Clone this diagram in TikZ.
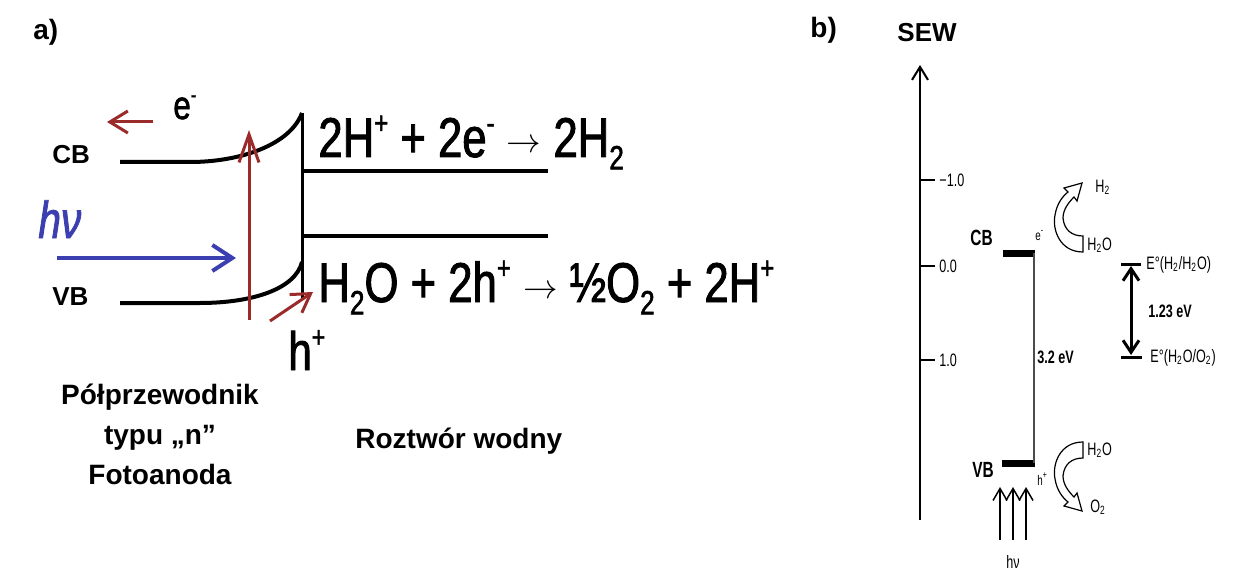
\documentclass[tikz,border=0pt]{standalone}
\usepackage{fontspec}
\setmainfont{Liberation Sans}
\newfontfamily\narrowsf[FakeStretch=0.7]{Liberation Sans}
\newfontfamily\eqsf[FakeStretch=0.78,FakeBold=1.6]{Liberation Sans}
\usetikzlibrary{arrows.meta}
\usepackage{xcolor}
\definecolor{Maroon}{HTML}{9B2B2B}
\definecolor{Royal}{HTML}{3B3FB0}
\newcommand{\supsm}[1]{\raisebox{0.42em}{\scalebox{0.55}{#1}}}
\newcommand{\subsm}[1]{\raisebox{-0.22em}{\scalebox{0.6}{#1}}}

\tikzset{
  lbl/.style={inner sep=0pt,anchor=base west},
  band/.style={line width=2pt},
  redarr/.style={draw=Maroon,line width=1.5pt,-{Straight Barb[length=9pt,width=11pt]}},
  bluearr/.style={draw=Royal,line width=2pt,-{Straight Barb[length=10pt,width=13pt]}},
  thinarr/.style={line width=0.75pt,-{Straight Barb[length=6pt,width=7pt]}},
  bendarrow/.pic={
    \draw[line width=0.6pt,fill=white]
      (0,-8) -- (0,8) .. controls (-23,8) and (-31,-14) .. (-28,-29)
      .. controls (-26,-41) and (-20,-48) .. (-15,-52) -- (-19,-56) -- (-1,-61)
      -- (-6,-43) -- (-9,-47) .. controls (-15,-41) and (-20,-34) .. (-20,-26)
      .. controls (-19,-14) and (-11,-8) .. (0,-8) -- cycle;
  }
}

\begin{document}
\begin{tikzpicture}[x=0.5pt,y=-0.5pt]
  \useasboundingbox (0,0) rectangle (1234,572);

  % a) band bending at the photoanode
  \node[lbl,font=\bfseries\fontsize{14}{16}\selectfont] (tagA) at (33,40) {a)};
  \node[lbl,font=\bfseries\fontsize{13}{15}\selectfont] (cbA) at (52,163) {CB};
  \node[lbl,font=\bfseries\fontsize{13}{15}\selectfont] (vbA) at (52,305) {VB};

  \coordinate (cbL) at (120,162);
  \coordinate (cbR) at (302,113);
  \coordinate (vbL) at (120,303);
  \coordinate (vbR) at (302,262);
  \coordinate (wallB) at (302,300);
  \draw[band] (cbL) -- (190,162) .. controls (240,162) and (290,145) .. (cbR);
  \draw[band] (vbL) -- (200,303) .. controls (250,303) and (295,290) .. (vbR);
  \draw[line width=1.5pt] (cbR) -- (wallB);
  \draw[band] (303,171) coordinate (redL) -- (548,171) coordinate (redR);
  \draw[band] (303,236) coordinate (oxL) -- (548,236) coordinate (oxR);

  \coordinate (excB) at (249,320);
  \coordinate (excT) at (249,130);
  \draw[redarr,-{Straight Barb[length=14pt,width=10pt]}] (excB) -- (excT);
  \coordinate (eoutR) at (153,122);
  \coordinate (eoutL) at (107,122);
  \draw[redarr] (eoutR) -- (eoutL);
  \coordinate (hinB) at (270,321);
  \coordinate (hinT) at (313,292);
  \draw[redarr] (hinB) -- (hinT);
  \coordinate (lightL) at (57,258);
  \coordinate (lightR) at (236,258);
  \draw[bluearr] (lightL) -- (lightR);

  \node[lbl,font=\eqsf\fontsize{20}{22}\selectfont] (eA) at (173,119) {e\supsm{-}};
  \node[lbl,font=\eqsf\itshape\fontsize{26}{30}\selectfont,text=Royal] (hvA) at (38,238) {hν};
  \node[lbl,font=\eqsf\fontsize{27}{30}\selectfont] (hA) at (288,370) {h\supsm{+}};

  \node[lbl,font=\eqsf\fontsize{28}{30}\selectfont] (eqRed) at (318,157)
    {2H\supsm{+} + 2e\supsm{-} \raisebox{2pt}{\fontsize{18}{18}\selectfont$\rightarrow$} 2H\subsm{2}};
  \node[lbl,font=\eqsf\fontsize{28}{30}\selectfont] (eqOx) at (318,302)
    {H\subsm{2}O + 2h\supsm{+} \raisebox{2pt}{\fontsize{18}{18}\selectfont$\rightarrow$} ½O\subsm{2} + 2H\supsm{+}};

  \node[font=\bfseries\fontsize{14}{20}\selectfont,align=center,anchor=north] (semi) at (160,377)
    {Półprzewodnik\\typu „n”\\Fotoanoda};
  \node[lbl,font=\bfseries\fontsize{14}{16}\selectfont] (sol) at (355,448) {Roztwór wodny};

  % b) energy scale vs. SEW
  \node[lbl,font=\bfseries\fontsize{14}{16}\selectfont] (tagB) at (810,38) {b)};
  \node[lbl,font=\bfseries\fontsize{13}{15}\selectfont] (sew) at (897,42) {SEW};
  \coordinate (axB) at (920,520);
  \coordinate (axT) at (920,65);
  \draw[line width=1pt,-{Straight Barb[length=6.5pt,width=8pt]}] (axB) -- (axT);
  \foreach \y/\t in {180/{−1.0},266/0.0,360/1.0}{
    \draw[line width=1pt] (920,\y) -- (935,\y);
    \node[font=\narrowsf\fontsize{9}{10}\selectfont,anchor=west,inner sep=1pt] at (937,\y) {\t};
  }

  \coordinate (cbBL) at (1003,253);
  \coordinate (cbBR) at (1035,253);
  \coordinate (vbBL) at (1002,463);
  \coordinate (vbBR) at (1035,463);
  \draw[line width=3.5pt] (cbBL) -- (cbBR);
  \draw[line width=3.5pt] (vbBL) -- (vbBR);
  \draw[line width=0.6pt,black!70] (1034,253) -- (1034,463);
  \node[lbl,font=\narrowsf\bfseries\fontsize{11}{12}\selectfont] (cbB) at (970,245) {CB};
  \node[lbl,font=\narrowsf\bfseries\fontsize{11}{12}\selectfont] (vbB) at (972,477) {VB};
  \node[lbl,font=\narrowsf\bfseries\fontsize{9}{10}\selectfont] (gap) at (1037,363) {3.2 eV};
  \node[lbl,font=\narrowsf\fontsize{7}{8}\selectfont] (eB) at (1035,240) {e\textsuperscript{-}};
  \node[lbl,font=\narrowsf\fontsize{7}{8}\selectfont] (hB) at (1037,485) {h\textsuperscript{+}};

  \pic at (1083,244) {bendarrow};
  \pic[yscale=-1] at (1083,450) {bendarrow};
  \node[lbl,font=\narrowsf\fontsize{9}{10}\selectfont] (h2) at (1095,192) {H\textsubscript{2}};
  \node[lbl,font=\narrowsf\fontsize{9}{10}\selectfont] (h2oU) at (1087,250) {H\textsubscript{2}O};
  \node[lbl,font=\narrowsf\fontsize{9}{10}\selectfont] (h2oD) at (1087,455) {H\textsubscript{2}O};
  \node[lbl,font=\narrowsf\fontsize{9}{10}\selectfont] (o2) at (1090,512) {O\textsubscript{2}};

  \foreach \x in {1000,1013,1026}
    \draw[thinarr] (\x,540) -- (\x,487);
  \node[lbl,font=\narrowsf\fontsize{9}{10}\selectfont] (hvB) at (1006,568) {hν};

  \coordinate (redLvlL) at (1121,264);
  \coordinate (redLvlR) at (1141,264);
  \coordinate (oxLvlL) at (1121,357);
  \coordinate (oxLvlR) at (1142,357);
  \draw[line width=1.5pt] (redLvlL) -- (redLvlR);
  \draw[line width=1.5pt] (oxLvlL) -- (oxLvlR);
  \draw[line width=1.5pt,{Straight Barb[length=6pt,width=8pt]}-{Straight Barb[length=6pt,width=8pt]}]
    (1131,266) -- (1131,355);
  \node[lbl,font=\narrowsf\bfseries\fontsize{9}{10}\selectfont] (dE) at (1148,317) {1.23 eV};
  \node[lbl,font=\narrowsf\fontsize{9}{10}\selectfont] (eRed) at (1146,269) {E°(H\textsubscript{2}/H\textsubscript{2}O)};
  \node[lbl,font=\narrowsf\fontsize{9}{10}\selectfont] (eOx) at (1150,362) {E°(H\textsubscript{2}O/O\textsubscript{2})};
\end{tikzpicture}
\end{document}
